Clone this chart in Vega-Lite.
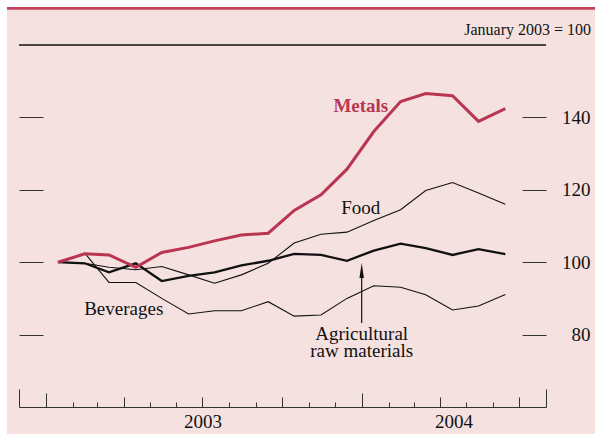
{
  "$schema": "https://vega.github.io/schema/vega-lite/v6.json",
  "width": 588,
  "height": 427,
  "autosize": {"type": "none"},
  "padding": {"left": 7, "top": 7, "right": 0, "bottom": 0},
  "background": "#ffffff",
  "config": {"view": {"stroke": null, "fill": "#f5e1df"}, "font": "Liberation Serif"},
  "datasets": {
    "prices": [
      {"date": "2003-01-15", "series": "Metals", "value": 100},
      {"date": "2003-02-15", "series": "Metals", "value": 102.3},
      {"date": "2003-03-15", "series": "Metals", "value": 102.0},
      {"date": "2003-04-15", "series": "Metals", "value": 98.6},
      {"date": "2003-05-15", "series": "Metals", "value": 102.7},
      {"date": "2003-06-15", "series": "Metals", "value": 104.1},
      {"date": "2003-07-15", "series": "Metals", "value": 105.9},
      {"date": "2003-08-15", "series": "Metals", "value": 107.5},
      {"date": "2003-09-15", "series": "Metals", "value": 108.0},
      {"date": "2003-10-15", "series": "Metals", "value": 114.3},
      {"date": "2003-11-15", "series": "Metals", "value": 118.6},
      {"date": "2003-12-15", "series": "Metals", "value": 125.7},
      {"date": "2004-01-15", "series": "Metals", "value": 136.1},
      {"date": "2004-02-15", "series": "Metals", "value": 144.4},
      {"date": "2004-03-15", "series": "Metals", "value": 146.6},
      {"date": "2004-04-15", "series": "Metals", "value": 146.0},
      {"date": "2004-05-15", "series": "Metals", "value": 138.9},
      {"date": "2004-06-15", "series": "Metals", "value": 142.4},
      {"date": "2003-01-15", "series": "Food", "value": 100},
      {"date": "2003-02-15", "series": "Food", "value": 99.7},
      {"date": "2003-03-15", "series": "Food", "value": 98.6},
      {"date": "2003-04-15", "series": "Food", "value": 97.9},
      {"date": "2003-05-15", "series": "Food", "value": 98.8},
      {"date": "2003-06-15", "series": "Food", "value": 96.5},
      {"date": "2003-07-15", "series": "Food", "value": 94.2},
      {"date": "2003-08-15", "series": "Food", "value": 96.5},
      {"date": "2003-09-15", "series": "Food", "value": 99.7},
      {"date": "2003-10-15", "series": "Food", "value": 105.3},
      {"date": "2003-11-15", "series": "Food", "value": 107.7},
      {"date": "2003-12-15", "series": "Food", "value": 108.3},
      {"date": "2004-01-15", "series": "Food", "value": 111.5},
      {"date": "2004-02-15", "series": "Food", "value": 114.5},
      {"date": "2004-03-15", "series": "Food", "value": 119.8},
      {"date": "2004-04-15", "series": "Food", "value": 122.0},
      {"date": "2004-05-15", "series": "Food", "value": 119.1},
      {"date": "2004-06-15", "series": "Food", "value": 116.0},
      {"date": "2003-01-15", "series": "Beverages", "value": 100},
      {"date": "2003-02-15", "series": "Beverages", "value": 102.5},
      {"date": "2003-03-15", "series": "Beverages", "value": 94.4},
      {"date": "2003-04-15", "series": "Beverages", "value": 94.4},
      {"date": "2003-05-15", "series": "Beverages", "value": 90.0},
      {"date": "2003-06-15", "series": "Beverages", "value": 85.7},
      {"date": "2003-07-15", "series": "Beverages", "value": 86.6},
      {"date": "2003-08-15", "series": "Beverages", "value": 86.6},
      {"date": "2003-09-15", "series": "Beverages", "value": 89.1},
      {"date": "2003-10-15", "series": "Beverages", "value": 85.1},
      {"date": "2003-11-15", "series": "Beverages", "value": 85.4},
      {"date": "2003-12-15", "series": "Beverages", "value": 90.0},
      {"date": "2004-01-15", "series": "Beverages", "value": 93.5},
      {"date": "2004-02-15", "series": "Beverages", "value": 93.1},
      {"date": "2004-03-15", "series": "Beverages", "value": 91.0},
      {"date": "2004-04-15", "series": "Beverages", "value": 86.8},
      {"date": "2004-05-15", "series": "Beverages", "value": 87.9},
      {"date": "2004-06-15", "series": "Beverages", "value": 91.1},
      {"date": "2003-01-15", "series": "Agricultural raw materials", "value": 100},
      {"date": "2003-02-15", "series": "Agricultural raw materials", "value": 99.7},
      {"date": "2003-03-15", "series": "Agricultural raw materials", "value": 97.2},
      {"date": "2003-04-15", "series": "Agricultural raw materials", "value": 99.7},
      {"date": "2003-05-15", "series": "Agricultural raw materials", "value": 94.8},
      {"date": "2003-06-15", "series": "Agricultural raw materials", "value": 96.2},
      {"date": "2003-07-15", "series": "Agricultural raw materials", "value": 97.2},
      {"date": "2003-08-15", "series": "Agricultural raw materials", "value": 99.1},
      {"date": "2003-09-15", "series": "Agricultural raw materials", "value": 100.4},
      {"date": "2003-10-15", "series": "Agricultural raw materials", "value": 102.3},
      {"date": "2003-11-15", "series": "Agricultural raw materials", "value": 102.0},
      {"date": "2003-12-15", "series": "Agricultural raw materials", "value": 100.4},
      {"date": "2004-01-15", "series": "Agricultural raw materials", "value": 103.2},
      {"date": "2004-02-15", "series": "Agricultural raw materials", "value": 105.1},
      {"date": "2004-03-15", "series": "Agricultural raw materials", "value": 103.9},
      {"date": "2004-04-15", "series": "Agricultural raw materials", "value": 102.0},
      {"date": "2004-05-15", "series": "Agricultural raw materials", "value": 103.6},
      {"date": "2004-06-15", "series": "Agricultural raw materials", "value": 102.2}
    ],
    "labels": [
      {"date": "2003-12-31", "value": 141.6, "text": "Metals"},
      {"date": "2003-12-31", "value": 113.4, "text": "Food"},
      {"date": "2003-04-01", "value": 85.4, "text": "Beverages"},
      {"date": "2004-01-01", "value": 78.5, "text": "Agricultural"},
      {"date": "2004-01-01", "value": 73.9, "text": "raw materials"}
    ],
    "note": [
      {"date": "2004-09-22", "value": 162.8, "text": "January 2003 = 100"}
    ]
  },
  "resolve": {"axis": {"x": "independent", "y": "independent"}},
  "layer": [
    {
      "data": {"values": [{}]},
      "mark": {"type": "rule", "color": "#c0435a", "strokeWidth": 2.8},
      "encoding": {
        "y": {"datum": 170.1, "type": "quantitative", "axis": null}
      }
    },
    {
      "data": {"values": [{}]},
      "mark": {"type": "rule", "color": "#111111", "strokeWidth": 1.5},
      "encoding": {
        "x": {"datum": 1038700800000, "type": "temporal", "axis": null},
        "x2": {"datum": 1091318400000},
        "y": {
          "datum": 160, "type": "quantitative",
          "axis": {
            "orient": "left", "offset": -36, "values": [80, 100, 120, 140],
            "labels": false, "domain": false, "title": null, "grid": false,
            "ticks": true, "tickSize": 24, "tickColor": "#333333", "tickWidth": 1
          }
        }
      }
    },
    {
      "data": {"name": "prices"},
      "transform": [{"filter": "datum.series == 'Food' || datum.series == 'Beverages'"}],
      "mark": {"type": "line", "color": "#111111", "strokeWidth": 1.1},
      "encoding": {
        "x": {
          "field": "date", "type": "temporal",
          "scale": {"type": "utc", "domain": [1038700800000, 1091318400000], "range": [12, 539]},
          "axis": {
            "orient": "bottom", "offset": -27, "title": null, "grid": false,
            "values": [1057017600000, 1082073600000],
            "labelExpr": "utcFormat(datum.value, '%Y')",
            "labelFont": "Liberation Serif", "labelFontSize": 19, "labelColor": "#111111",
            "labelPadding": 5, "labelOverlap": false, "labelFlush": false, "labelBound": false,
            "labelAlign": "center", "labelBaseline": "top",
            "ticks": false, "tickSize": 0,
            "domain": true, "domainColor": "#333333", "domainWidth": 1
          }
        },
        "y": {
          "field": "value", "type": "quantitative",
          "scale": {"domain": [60, 160], "range": [400, 38], "nice": false, "zero": false},
          "axis": {
            "orient": "right", "offset": -49, "values": [80, 100, 120, 140],
            "title": null, "grid": false, "domain": false,
            "labelAlign": "right", "labelBaseline": "middle", "labelPadding": 44,
            "labelFont": "Liberation Serif", "labelFontSize": 19, "labelColor": "#111111",
            "ticks": false, "tickSize": 0
          }
        },
        "detail": {"field": "series", "type": "nominal"}
      }
    },
    {
      "data": {"name": "prices"},
      "transform": [{"filter": "datum.series == 'Agricultural raw materials'"}],
      "mark": {"type": "line", "color": "#111111", "strokeWidth": 2.3},
      "encoding": {
        "x": {
          "field": "date", "type": "temporal",
          "axis": {
            "orient": "bottom", "offset": -32, "title": null, "grid": false, "labels": false, "domain": false,
            "values": [1044057600000, 1046476800000, 1051747200000, 1054425600000, 1059696000000, 1062374400000, 1067644800000, 1070236800000, 1075593600000, 1078099200000, 1083369600000, 1086048000000],
            "ticks": true, "tickSize": 5, "tickColor": "#333333", "tickWidth": 1
          }
        },
        "y": {
          "field": "value", "type": "quantitative",
          "axis": {
            "orient": "right", "offset": -73, "values": [80, 100, 120, 140],
            "title": null, "grid": false, "domain": false, "labels": false,
            "ticks": true, "tickSize": 24, "tickColor": "#333333", "tickWidth": 1
          }
        }
      }
    },
    {
      "data": {"name": "prices"},
      "transform": [{"filter": "datum.series == 'Metals'"}],
      "mark": {"type": "line", "color": "#b93552", "strokeWidth": 3},
      "encoding": {
        "x": {
          "field": "date", "type": "temporal",
          "axis": {
            "orient": "bottom", "offset": -37, "title": null, "grid": false, "labels": false, "domain": false,
            "values": [1049155200000, 1057017600000, 1064966400000, 1080777600000, 1088640000000],
            "ticks": true, "tickSize": 10, "tickColor": "#333333", "tickWidth": 1
          }
        },
        "y": {"field": "value", "type": "quantitative", "axis": null}
      }
    },
    {
      "data": {"name": "labels"},
      "transform": [{"filter": "datum.text != 'Metals'"}],
      "mark": {"type": "text", "font": "Liberation Serif", "fontSize": 19, "color": "#111111", "align": "center", "baseline": "alphabetic"},
      "encoding": {
        "x": {
          "field": "date", "type": "temporal",
          "axis": {
            "orient": "bottom", "offset": -41, "title": null, "grid": false, "labels": false, "domain": false,
            "values": [1041379200000, 1072915200000],
            "ticks": true, "tickSize": 14, "tickColor": "#333333", "tickWidth": 1
          }
        },
        "y": {"field": "value", "type": "quantitative", "axis": null},
        "text": {"field": "text"}
      }
    },
    {
      "data": {"name": "labels"},
      "transform": [{"filter": "datum.text == 'Metals'"}],
      "mark": {"type": "text", "font": "Liberation Serif", "fontSize": 19, "fontWeight": "bold", "color": "#b93552", "align": "center", "baseline": "alphabetic"},
      "encoding": {
        "x": {
          "field": "date", "type": "temporal",
          "axis": {
            "orient": "bottom", "offset": -45, "title": null, "grid": false, "labels": false, "domain": false,
            "values": [1038700800000, 1091318400000],
            "ticks": true, "tickSize": 18, "tickColor": "#333333", "tickWidth": 1
          }
        },
        "y": {"field": "value", "type": "quantitative", "axis": null},
        "text": {"field": "text"}
      }
    },
    {
      "data": {"name": "note"},
      "mark": {"type": "text", "font": "Liberation Serif", "fontSize": 16, "color": "#111111", "align": "right", "baseline": "alphabetic"},
      "encoding": {
        "x": {"field": "date", "type": "temporal", "axis": null},
        "y": {"field": "value", "type": "quantitative", "axis": null},
        "text": {"field": "text"}
      }
    },
    {
      "data": {"values": [{}]},
      "mark": {"type": "rule", "color": "#111111", "strokeWidth": 1.2},
      "encoding": {
        "x": {"datum": 1072915200000, "type": "temporal", "axis": null},
        "y": {"datum": 83.2, "type": "quantitative", "axis": null},
        "y2": {"datum": 96.5}
      }
    },
    {
      "data": {"values": [{}]},
      "mark": {"type": "point", "shape": "M0,-1L0.3,1L-0.3,1Z", "size": 225, "filled": true, "color": "#111111", "opacity": 1, "strokeWidth": 0},
      "encoding": {
        "x": {"datum": 1072915200000, "type": "temporal", "axis": null},
        "y": {"datum": 97.7, "type": "quantitative", "axis": null}
      }
    }
  ]
}
